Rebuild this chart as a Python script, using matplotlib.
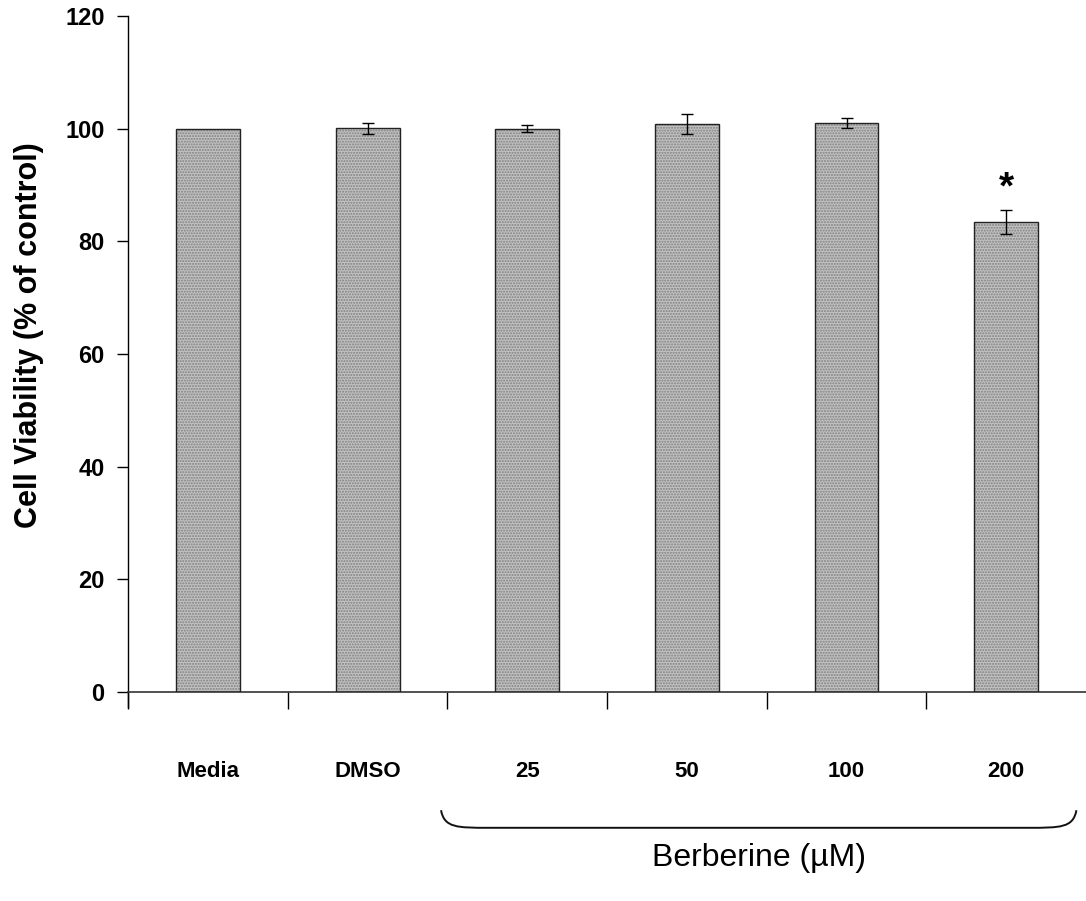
import matplotlib
matplotlib.use("Agg")
import matplotlib.pyplot as plt
from matplotlib.path import Path
from matplotlib.patches import PathPatch
from matplotlib.transforms import blended_transform_factory
import numpy as np

categories = ["Media", "DMSO", "25", "50", "100", "200"]
viability = [100.0, 100.1, 100.0, 100.9, 101.1, 83.5]
errors = [0.0, 1.0, 0.6, 1.8, 0.9, 2.1]
significant = [False, False, False, False, False, True]
yticks = [0, 20, 40, 60, 80, 100, 120]
group_label = "Berberine (\u00b5M)"
group_span = (1.46, 5.44)

plt.rcParams["font.family"] = ["Liberation Sans", "DejaVu Sans"]

fig = plt.figure(figsize=(10.86, 9.01), dpi=100)
ax = fig.add_axes([0.118, 0.232, 0.882, 0.750])

x = np.arange(len(categories))
# stippled grey bars: hatch layer, then black outline
ax.bar(x, viability, width=0.4, color="#c2c2c2", edgecolor="#808080",
       hatch="......", linewidth=0, zorder=2)
ax.bar(x, viability, width=0.4, fill=False, edgecolor="#222222",
       linewidth=1.0, zorder=3)
ax.errorbar(x[1:], viability[1:], yerr=errors[1:], fmt="none",
            ecolor="black", elinewidth=1.0, capsize=4, capthick=1.0, zorder=4)

for xi, v, e, s in zip(x, viability, errors, significant):
    if s:
        ax.text(xi, v + e + 0.6, "*", ha="center", va="bottom",
                fontsize=28, fontweight="bold")

ax.set_xlim(-0.5, 5.5)
ax.set_ylim(0, 120)
ax.spines["top"].set_visible(False)
ax.spines["right"].set_visible(False)
ax.spines["left"].set_bounds(-2.7, 120)
ax.spines["left"].set_linewidth(1.0)
ax.spines["bottom"].set_linewidth(1.2)
ax.spines["bottom"].set_color("#333333")

ax.set_yticks(yticks)
ax.set_yticklabels([str(t) for t in yticks], fontsize=17, fontweight="bold")
ax.tick_params(axis="y", direction="out", length=8, width=1.0, pad=9)

ax.set_xticks(x)
ax.set_xticklabels(categories, fontsize=16, fontweight="bold")
ax.set_xticks(np.arange(-0.5, 5.0, 1.0), minor=True)
ax.tick_params(axis="x", which="major", length=0, pad=50)
ax.tick_params(axis="x", which="minor", direction="out", length=12, width=1.0)

ax.set_ylabel("Cell Viability (% of control)", fontsize=22, fontweight="bold")
ax.yaxis.set_label_coords(-0.088, 0.528)

# brace under the berberine doses
trans = blended_transform_factory(ax.transData, ax.transAxes)
x0, x1 = group_span
top, bot = -0.175, -0.201
verts = [(x0, top), (x0 + 0.02, bot), (x0 + 0.1, bot), (x0 + 0.3, bot),
         (x1 - 0.3, bot),
         (x1 - 0.1, bot), (x1 - 0.02, bot), (x1, top)]
codes = [Path.MOVETO, Path.CURVE4, Path.CURVE4, Path.CURVE4,
         Path.LINETO,
         Path.CURVE4, Path.CURVE4, Path.CURVE4]
ax.add_patch(PathPatch(Path(verts, codes), transform=trans, fill=False,
                       edgecolor="#111111", linewidth=1.4, clip_on=False))
ax.text((x0 + x1) / 2, -0.245, group_label, transform=trans, ha="center",
        va="center", fontsize=23)

fig.savefig("out.png", dpi=100)
